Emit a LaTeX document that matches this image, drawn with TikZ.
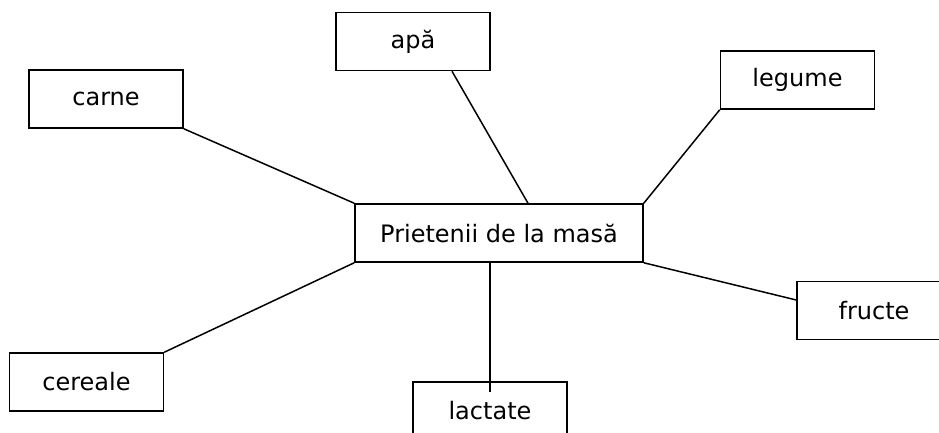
\documentclass[tikz,border=0pt]{standalone}
\usepackage{fontspec}
\setmainfont{DejaVu Sans}
\begin{document}
\begin{tikzpicture}[x=1pt,y=-1pt,
  foodbox/.style={draw,line width=1.5pt,inner sep=0pt,minimum width=154pt,
    minimum height=58pt,font=\fontsize{24}{28}\selectfont},
  link/.style={line width=1.5pt}]
  \clip (0,0) rectangle (939,432);
  % centre
  \node[foodbox,minimum width=288pt] (masa) at (499,233) {Prietenii de la masă};
  % around it
  \node[foodbox] (apa)     at (413,41.5) {apă};
  \node[foodbox] (carne)   at (106,99)   {carne};
  \node[foodbox] (legume)  at (797.5,80) {legume};
  \node[foodbox] (fructe)  at (874,310.5){fructe};
  \node[foodbox] (cereale) at (86.5,382) {cereale};
  \node[foodbox] (lactate) at (490,411)  {lactate};
  % links
  \draw[link] (carne.south east) -- (masa.north west);
  \draw[link] ([xshift=39pt]apa.south) -- ([xshift=29pt]masa.north);
  \draw[link] (legume.south west) -- (masa.north east);
  \draw[link] (masa.south east) -- ([yshift=10.5pt]fructe.west);
  \draw[link] (cereale.north east) -- (masa.south west);
  \draw[link] ([yshift=-11pt]lactate.north) -- (lactate.north |- masa.south);
\end{tikzpicture}
\end{document}
